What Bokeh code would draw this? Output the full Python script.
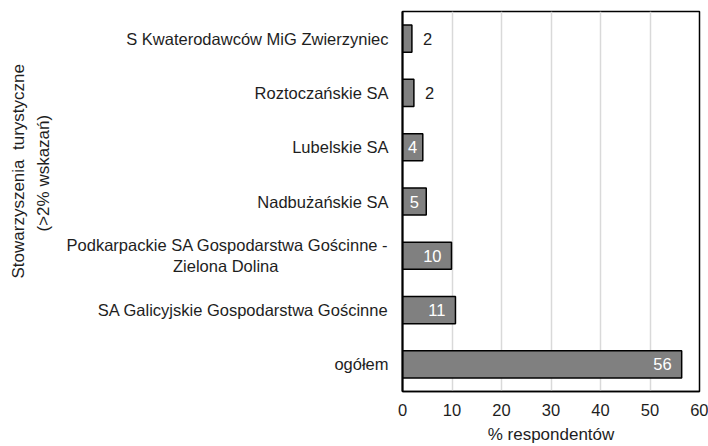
from bokeh.plotting import figure
from bokeh.models import ColumnDataSource, FactorRange, FixedTicker, Range1d, Title
from bokeh.core.properties import value
from bokeh.embed import file_html
from bokeh.resources import INLINE

NBSP = "\u00a0"
categories = [
    "S Kwaterodawców MiG Zwierzyniec",
    "Roztoczańskie SA",
    "Lubelskie SA",
    "Nadbużańskie SA",
    "Podkarpackie SA Gospodarstwa Gościnne -\nZielona Dolina",
    "SA Galicyjskie Gospodarstwa Gościnne",
    "ogółem",
]
values = [1.9, 2.3, 4.1, 4.8, 9.9, 10.7, 56.4]
labels = ["2", "2", "4", "5", "10", "11", "56"]
x_ticks = [0, 10, 20, 30, 40, 50, 60]
y_title = ["Stowarzyszenia" + NBSP + " turystyczne", "(>2% wskazań)"]
x_title = "% respondentów"

# multi-line category labels: centre the second line under the first
def centred(lbl):
    if "\n" not in lbl:
        return lbl
    a, b = lbl.split("\n")
    pad = max(0, round((len(a) - len(b)) * 0.95))
    return a + "\n" + b + NBSP * pad

factors = [centred(c) for c in categories]

FONT = "Liberation Sans"
TXT = "#1e1e1e"
FS = "16.5px"

p = figure(
    width=708, height=446,
    y_range=FactorRange(factors=list(reversed(factors))),
    x_range=Range1d(0, 60),
    output_backend="svg", toolbar_location=None,
    min_border_left=402, min_border_right=9, min_border_top=11, min_border_bottom=53,
)
p.background_fill_color = "white"
p.border_fill_color = "white"
p.outline_line_color = "black"
p.outline_line_width = 1.5

src = ColumnDataSource(dict(cat=factors, val=values, lab=labels))
p.hbar(y="cat", right="val", left=0, height=0.5, source=src,
       fill_color="#808080", line_color="black", line_width=1.5)

out_idx = [i for i, v in enumerate(values) if v < 3]
mid_idx = [i for i, v in enumerate(values) if 3 <= v < 8]
end_idx = [i for i, v in enumerate(values) if v >= 8]

def sub(idx, xs):
    return ColumnDataSource(dict(cat=[factors[i] for i in idx],
                                 x=[xs(values[i]) for i in idx],
                                 lab=[labels[i] for i in idx]))

common = dict(y="cat", text="lab", text_font=value(FONT), text_font_size=FS,
              text_baseline="middle")
p.text(x="x", source=sub(out_idx, lambda v: v), text_align="left", x_offset=11,
       text_color=TXT, **common)
p.text(x="x", source=sub(mid_idx, lambda v: v / 2), text_align="center",
       text_color="white", **common)
p.text(x="x", source=sub(end_idx, lambda v: v), text_align="right", x_offset=-10,
       text_color="white", **common)

xa = p.xaxis[0]
xa.ticker = FixedTicker(ticks=x_ticks)
xa.major_tick_line_color = None
xa.minor_tick_line_color = None
xa.axis_line_color = "black"
xa.axis_line_width = 1.5
xa.major_label_text_font = FONT
xa.major_label_text_font_size = FS
xa.major_label_text_color = TXT
xa.major_label_standoff = 6
xa.axis_label = x_title
xa.axis_label_text_font = FONT
xa.axis_label_text_font_size = "17px"
xa.axis_label_text_font_style = "normal"
xa.axis_label_text_color = TXT
xa.axis_label_standoff = 6

ya = p.yaxis[0]
ya.major_tick_line_color = None
ya.minor_tick_line_color = None
ya.axis_line_color = "black"
ya.axis_line_width = 2
ya.major_label_text_font = FONT
ya.major_label_text_font_size = FS
ya.major_label_text_color = TXT
ya.major_label_text_line_height = 1.15
ya.major_label_standoff = 8

# y title: two vertical lines, inner line added first (closer to the axis)
for txt, off, so in [(y_title[1], 160, 22), (y_title[0], 113, -14)]:
    p.add_layout(Title(text=txt, align="left", offset=off, standoff=so,
                       text_font=FONT, text_font_size="17px", text_font_style="normal",
                       text_color=TXT), "left")

p.xgrid.grid_line_color = "#d9d9d9"
p.xgrid.grid_line_width = 1.5
p.ygrid.grid_line_color = None

open("out.html", "w").write(file_html(p, INLINE))
